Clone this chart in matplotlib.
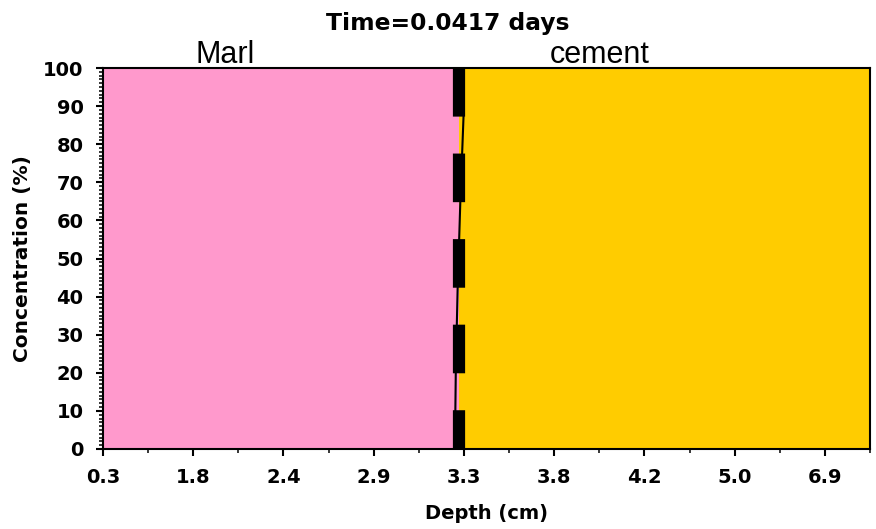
import matplotlib
matplotlib.use("Agg")
import matplotlib.pyplot as plt
from matplotlib.ticker import MultipleLocator, FixedLocator
import matplotlib.transforms as mtransforms

# x axis is a category-like axis: labelled depths every second position
depth_labels = ["0.3", "1.8", "2.4", "2.9", "3.3", "3.8", "4.2", "5.0", "6.9"]
n_positions = 17          # axis runs over 17 steps
interface_pos = 7.9       # marl / cement boundary (axis position)

# concentration profile (position on axis, concentration %)
profile_conc = [100, 87, 65, 42, 21, 0]
profile_pos = [7.99, 7.99, 7.92, 7.86, 7.82, 7.80]

# interface marker line
interface_conc = [100, 0]

materials = ["Marl", "cement"]
material_colors = ["#FF99CC", "#FFCC00"]
material_label_pos = [2.7, 11.0]

plt.rcParams["lines.scale_dashes"] = False

fig = plt.figure(figsize=(8.76, 5.29), dpi=100)
ax = fig.add_axes([103 / 876, 1 - 449 / 529, (870 - 103) / 876, (449 - 68) / 529])

ax.axvspan(0, interface_pos, color=material_colors[0], lw=0)
ax.axvspan(interface_pos, n_positions, color=material_colors[1], lw=0)

ax.plot([interface_pos] * len(interface_conc), interface_conc, color="black",
        lw=8.8, linestyle=(0, (35, 26.6)), solid_capstyle="butt", dash_capstyle="butt")
ax.plot(profile_pos, profile_conc, color="black", lw=1.5)

ax.set_xlim(0, n_positions)
ax.set_ylim(0, 100)

ax.xaxis.set_major_locator(FixedLocator(range(0, 2 * len(depth_labels), 2)))
ax.set_xticklabels(depth_labels)
ax.xaxis.set_minor_locator(MultipleLocator(1))
ax.yaxis.set_major_locator(MultipleLocator(10))
ax.yaxis.set_minor_locator(MultipleLocator(1))

ax.tick_params(axis="both", which="major", direction="out", length=5, width=1.5,
               labelsize=14)
ax.tick_params(axis="x", which="major", pad=9)
ax.tick_params(axis="y", which="major", pad=9)
ax.tick_params(axis="both", which="minor", direction="out", length=3, width=1.1)
for lab in ax.get_xticklabels() + ax.get_yticklabels():
    lab.set_fontweight("bold")
for sp in ax.spines.values():
    sp.set_linewidth(1.5)

ax.set_xlabel("Depth (cm)", fontsize=14, fontweight="bold", labelpad=12)
ax.set_ylabel("Concentration (%)", fontsize=14.5, fontweight="bold")
ax.yaxis.set_label_coords(-0.092, 0.5)

trans = mtransforms.blended_transform_factory(ax.transData, ax.transAxes)
for name, xpos in zip(materials, material_label_pos):
    ax.text(xpos, 1.012, name, transform=trans, ha="center", va="baseline",
            fontsize=22, family="Liberation Sans")

fig.text(447.5 / 876, 1 - 30 / 529, "Time=0.0417 days", ha="center", va="baseline",
         fontsize=16.8, fontweight="bold")

fig.savefig("out.png", dpi=100)
